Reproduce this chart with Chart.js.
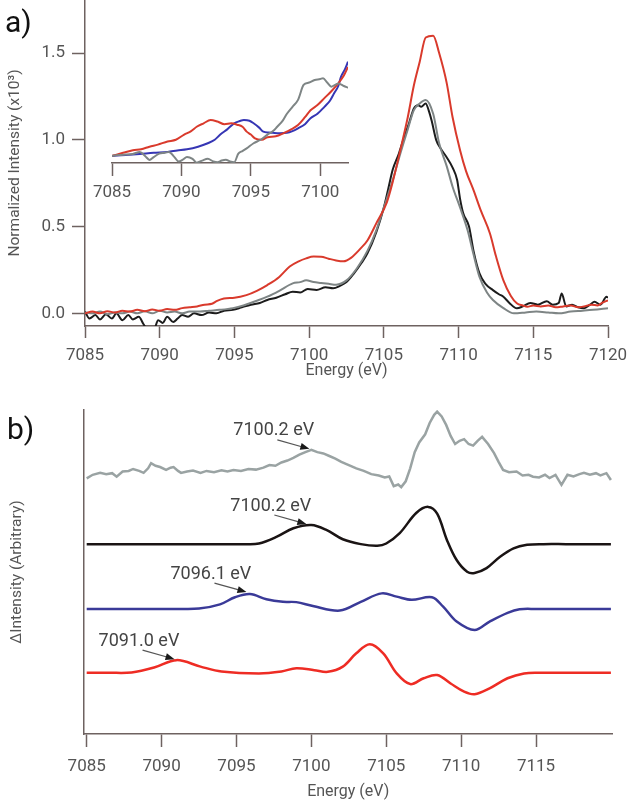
<!DOCTYPE html>
<html>
<head>
<meta charset="utf-8">
<script src="https://cdn.jsdelivr.net/npm/chart.js@4.4.1/dist/chart.umd.min.js"></script>
<style>
  html, body { margin: 0; padding: 0; background: #fff; }
  #wrap { position: relative; width: 629px; height: 805px; overflow: hidden; }
  canvas { position: absolute; }
  .plab { position: absolute; font-family: Roboto, 'Liberation Sans', sans-serif; font-size: 30px; color: #111; line-height: 1; }
</style>
</head>
<body>
<div id="wrap">
  <canvas id="cA" width="629" height="390" style="left:0;top:0"></canvas>
  <canvas id="cI" width="296" height="210" style="left:82px;top:0"></canvas>
  <canvas id="cB" width="629" height="415" style="left:0;top:390px"></canvas>
  <div class="plab" style="left:5px;top:7px">a)</div>
  <div class="plab" style="left:7px;top:414px">b)</div>
</div>
<script>
// ---------------- tick labels ----------------
const aXTicks = [7085, 7090, 7095, 7100, 7105, 7110, 7115, 7120];
const aYTicks = [0.0, 0.5, 1.0, 1.5];
const insetXTicks = [7085, 7090, 7095, 7100];
const bXTicks = [7085, 7090, 7095, 7100, 7105, 7110, 7115];

// ---------------- Panel a: main spectra ----------------
const aRedE = [7085,7085.5,7086,7086.5,7087,7087.5,7088,7088.5,7089,7089.5,7090,7090.5,7091,7091.5,7092,7092.5,7093,7093.5,7093.8,7094.3,7095,7095.8,7096.5,7097.2,7098,7098.7,7099.3,7099.8,7100.3,7100.8,7101.3,7101.8,7102.3,7102.8,7103.4,7103.9,7104.5,7105.2,7105.6,7106.1,7106.6,7107,7107.4,7107.8,7108.3,7108.7,7109.2,7109.6,7110.1,7110.5,7111,7111.5,7112.1,7112.5,7113,7113.5,7113.9,7114.3,7114.6,7115,7115.5,7116,7116.5,7117,7117.5,7118,7118.4,7118.9,7119.3,7119.6,7120];
const aRedV = [0.0,0.01,0.0,0.012,0.005,0.015,0.01,0.02,0.012,0.022,0.015,0.025,0.02,0.03,0.035,0.04,0.05,0.055,0.07,0.086,0.09,0.105,0.13,0.163,0.21,0.27,0.30,0.317,0.327,0.326,0.315,0.305,0.30,0.32,0.37,0.42,0.52,0.64,0.76,0.94,1.13,1.31,1.45,1.59,1.60,1.50,1.33,1.13,0.94,0.82,0.71,0.59,0.46,0.33,0.19,0.10,0.058,0.045,0.038,0.045,0.04,0.045,0.035,0.04,0.045,0.035,0.04,0.05,0.045,0.06,0.075];

const aBlackE = [7085,7085.3,7085.7,7086,7086.4,7086.8,7087.1,7087.5,7087.9,7088.2,7088.6,7088.9,7089.2,7089.6,7089.9,7090.2,7090.5,7090.9,7091.2,7091.5,7091.9,7092.3,7092.8,7093.3,7093.8,7094.3,7094.9,7095.5,7096.1,7096.7,7097.2,7097.8,7098.4,7098.9,7099.4,7099.9,7100.5,7101.1,7101.6,7102.1,7102.5,7103,7103.5,7103.9,7104.5,7105,7105.3,7105.6,7106,7106.3,7106.7,7107,7107.3,7107.5,7107.8,7108,7108.2,7108.5,7108.8,7109.2,7109.6,7109.9,7110.1,7110.3,7110.7,7111,7111.4,7111.8,7112.3,7112.7,7113,7113.4,7113.9,7114.3,7114.8,7115.3,7115.9,7116.3,7116.7,7116.9,7117.2,7117.6,7118,7118.4,7118.8,7119.1,7119.5,7119.9,7120];
const aBlackV = [0.01,-0.03,-0.01,-0.035,-0.005,-0.03,0.0,-0.04,-0.01,-0.035,-0.02,-0.06,-0.095,-0.095,-0.04,-0.055,-0.02,-0.05,-0.03,-0.01,-0.02,0.0,-0.01,0.005,0.0,0.015,0.02,0.035,0.05,0.06,0.077,0.09,0.11,0.125,0.12,0.14,0.135,0.15,0.144,0.16,0.18,0.23,0.29,0.346,0.47,0.61,0.72,0.83,0.92,1.0,1.10,1.18,1.20,1.19,1.21,1.17,1.11,1.0,0.95,0.90,0.84,0.77,0.66,0.58,0.50,0.36,0.23,0.17,0.134,0.11,0.096,0.06,0.029,0.04,0.06,0.05,0.07,0.05,0.06,0.115,0.04,0.05,0.035,0.03,0.05,0.067,0.05,0.096,0.09];

const aGrayE = [7085,7085.5,7086,7086.5,7087,7087.5,7088,7088.5,7089,7089.5,7090,7090.5,7091,7091.5,7092,7092.7,7093.3,7094,7094.9,7095.6,7096.4,7097.2,7098,7098.9,7099.4,7099.8,7100.3,7100.8,7101.3,7101.8,7102.5,7103.2,7103.9,7104.5,7105,7105.6,7106.1,7106.6,7107,7107.4,7107.8,7108.3,7108.7,7109.2,7109.6,7110.1,7110.6,7111,7111.4,7111.9,7112.3,7113,7113.7,7114.5,7115.2,7116,7116.7,7117.5,7118.3,7119,7120];
const aGrayV = [0.005,0.0,0.01,-0.005,0.005,0.0,0.01,0.0,0.012,0.0,0.015,0.005,0.01,0.0,0.01,0.01,0.015,0.02,0.03,0.045,0.07,0.096,0.13,0.173,0.18,0.19,0.18,0.175,0.17,0.165,0.19,0.26,0.36,0.48,0.61,0.77,0.92,1.06,1.17,1.21,1.23,1.15,0.98,0.85,0.73,0.61,0.48,0.34,0.21,0.12,0.077,0.03,0.0,0.005,0.01,0.005,0.0,0.01,0.015,0.02,0.03];

// ---------------- Panel a: inset (pre-edge) ----------------
const iRedE = [7085,7085.8,7086.5,7087.1,7087.7,7088.3,7089,7089.6,7090.2,7090.7,7091.1,7091.6,7092.1,7092.6,7093.1,7093.6,7094,7094.4,7094.7,7095,7095.3,7095.8,7096.2,7096.8,7097.4,7097.9,7098.4,7098.9,7099.3,7099.8,7100.3,7100.8,7101.3,7101.7,7102];
const iRedV = [0.907,0.925,0.94,0.945,0.96,0.972,0.99,1.0,1.03,1.05,1.075,1.095,1.114,1.105,1.09,1.095,1.087,1.075,1.047,1.03,1.008,1.0,1.015,1.02,1.04,1.06,1.085,1.13,1.17,1.2,1.24,1.28,1.325,1.37,1.42];
const iBlueE = [7085,7086,7087,7088,7089,7089.7,7090.4,7091.2,7091.9,7092.4,7092.8,7093.3,7093.8,7094.2,7094.5,7094.9,7095.2,7095.6,7095.9,7096.3,7096.6,7097.1,7097.6,7098,7098.4,7098.9,7099.3,7099.8,7100.3,7100.7,7101,7101.3,7101.5,7101.8,7102];
const iBlueV = [0.907,0.912,0.918,0.925,0.93,0.938,0.945,0.96,0.98,1.0,1.03,1.06,1.095,1.108,1.114,1.11,1.095,1.07,1.047,1.042,1.04,1.038,1.04,1.05,1.066,1.09,1.124,1.15,1.19,1.225,1.268,1.31,1.364,1.41,1.45];
const iGrayE = [7085,7085.5,7086,7086.5,7087,7087.4,7087.7,7088,7088.4,7088.8,7089.1,7089.5,7089.8,7090.1,7090.4,7090.8,7091.1,7091.5,7091.9,7092.3,7092.6,7092.9,7093.2,7093.5,7093.8,7094.1,7094.4,7094.7,7095.2,7095.7,7096.2,7096.6,7096.9,7097.3,7097.6,7098,7098.4,7098.8,7099.2,7099.6,7100,7100.2,7100.5,7100.8,7101.3,7101.7,7102];
const iGrayV = [0.907,0.912,0.915,0.918,0.93,0.905,0.884,0.9,0.92,0.925,0.93,0.9,0.874,0.885,0.90,0.89,0.868,0.88,0.89,0.875,0.87,0.88,0.885,0.875,0.87,0.92,0.935,0.95,0.98,1.0,1.03,1.05,1.075,1.11,1.15,1.19,1.23,1.316,1.33,1.345,1.35,1.355,1.33,1.306,1.325,1.31,1.30];

// ---------------- Panel b: difference spectra (arbitrary offsets) ----------------
const bGrayE = [7085,7085.4,7085.9,7086.3,7086.7,7087,7087.4,7087.8,7088.1,7088.5,7088.8,7089.1,7089.3,7089.6,7089.9,7090.3,7090.6,7090.8,7091.1,7091.3,7091.7,7092.1,7092.6,7093,7093.5,7094,7094.4,7094.8,7095.3,7095.8,7096.3,7096.8,7097.2,7097.6,7098,7098.4,7098.8,7099.2,7099.6,7100,7100.4,7100.8,7101.2,7101.6,7102,7102.5,7103,7103.5,7104,7104.5,7104.9,7105.2,7105.5,7105.8,7106,7106.3,7106.6,7106.9,7107.2,7107.6,7107.9,7108.2,7108.4,7108.7,7109,7109.3,7109.6,7109.9,7110.2,7110.5,7110.8,7111.1,7111.4,7111.8,7112.2,7112.5,7112.8,7113.2,7113.7,7114.1,7114.5,7114.8,7115.2,7115.6,7115.9,7116.3,7116.7,7117.1,7117.5,7117.9,7118.2,7118.6,7119,7119.3,7119.7,7120];
const bGrayV = [7.89,8.0,8.06,8.02,8.05,7.94,8.10,8.12,8.18,8.12,8.06,8.2,8.36,8.28,8.24,8.15,8.22,8.24,8.12,8.06,8.1,8.13,8.06,8.12,8.08,8.14,8.10,8.15,8.12,8.18,8.16,8.22,8.30,8.28,8.38,8.44,8.52,8.62,8.70,8.77,8.70,8.66,8.58,8.50,8.40,8.30,8.20,8.12,8.02,7.98,7.92,7.95,7.65,7.70,7.62,7.80,8.20,8.70,9.0,9.25,9.60,9.85,9.95,9.80,9.54,9.20,8.95,9.05,9.10,8.95,8.90,9.05,9.17,8.95,8.67,8.40,8.15,8.08,8.10,7.98,8.0,7.94,7.92,8.0,7.90,8.0,7.69,8.0,7.95,8.02,8.06,8.0,8.05,7.98,8.05,7.84];
const bBlackE = [7085,7090,7094,7095.5,7096.5,7097.7,7098.8,7100,7101,7102.1,7103.3,7104.4,7105,7105.9,7107,7107.8,7108.4,7109.05,7109.7,7110.4,7110.9,7111.7,7112.6,7113.5,7114.4,7115.5,7117,7120];
const bBlackV = [5.86,5.86,5.86,5.86,5.88,6.09,6.35,6.45,6.30,6.01,5.86,5.81,5.88,6.20,6.82,7.01,6.80,5.99,5.37,5.01,4.97,5.12,5.47,5.73,5.84,5.86,5.86,5.86];
const bBlueE = [7085,7088,7091,7092.5,7093.9,7094.9,7095.9,7097,7098.1,7099,7100.1,7101.9,7103.3,7104.7,7105.7,7106.7,7108.05,7108.8,7109.7,7110.9,7111.9,7113.1,7113.9,7115,7117,7120];
const bBlueV = [3.86,3.86,3.86,3.87,4.0,4.22,4.32,4.16,4.08,4.07,3.95,3.81,4.08,4.34,4.24,4.14,4.22,3.93,3.47,3.21,3.47,3.74,3.85,3.86,3.86,3.86];
const bRedE = [7085,7086.5,7088,7089.5,7091,7092.6,7094,7096.5,7098,7099,7100.2,7101.1,7102.1,7103,7103.9,7104.8,7105.7,7106.6,7107.5,7108.4,7109.3,7110.2,7110.9,7111.9,7113.1,7114.2,7115.3,7117,7120];
const bRedV = [1.89,1.89,1.90,2.05,2.28,2.08,1.93,1.87,1.93,2.03,1.97,1.92,2.08,2.49,2.77,2.49,1.87,1.54,1.72,1.82,1.56,1.31,1.23,1.41,1.72,1.87,1.89,1.89,1.89];

// ---------------- Panel b: peak annotations ----------------
const annLabels = ['7100.2 eV', '7100.2 eV', '7096.1 eV', '7091.0 eV'];
const annE = [7100.0, 7099.8, 7095.8, 7091.0];
const annV = [8.77, 6.45, 4.35, 2.28];

// ---------------- styling ----------------
const AXIS = '#6e6260';
const TXT = '#555555';
const FONT = "Roboto, 'Liberation Sans', sans-serif";
Chart.defaults.font.family = FONT;
Chart.defaults.color = TXT;

const pts = (xs, ys) => xs.map((x, i) => ({ x: x, y: ys[i] }));
const line = (xs, ys, color, w, extra) => Object.assign({
  data: pts(xs, ys), borderColor: color, borderWidth: w, pointRadius: 0,
  fill: false, cubicInterpolationMode: 'monotone'
}, extra || {});
const smooth = { cubicInterpolationMode: 'default', tension: 0.35 };
const setTicks = (vals) => (scale) => { scale.ticks = vals.map(v => ({ value: v })); };
const fitW = (w) => (scale) => { scale.width = w; scale.paddingTop = 0; scale.paddingBottom = 0; };
const fitH = (h) => (scale) => { scale.height = h; scale.paddingLeft = 0; scale.paddingRight = 0; };

const baseOpts = {
  responsive: false, animation: false, devicePixelRatio: 1,
  plugins: { legend: { display: false }, tooltip: { enabled: false } },
  events: []
};

// ---------- Panel a main chart ----------
new Chart(document.getElementById('cA'), {
  type: 'line',
  data: { datasets: [
    line(aRedE, aRedV, '#d93a2c', 2),
    line(aGrayE, aGrayV, '#7e8585', 2),
    line(aBlackE, aBlackV, '#1c1c1c', 2)
  ]},
  options: Object.assign({}, baseOpts, {
    layout: { padding: { left: 0, right: 21, top: 0, bottom: 0 } },
    scales: {
      x: {
        type: 'linear', min: 7085, max: 7120,
        afterBuildTicks: setTicks(aXTicks), afterFit: fitH(64),
        border: { color: AXIS, width: 1.5 },
        grid: { drawOnChartArea: false, drawTicks: true, tickLength: 12, tickColor: AXIS, tickWidth: 1.5 },
        ticks: { font: { size: 17 }, color: TXT, padding: 8, maxRotation: 0, callback: v => String(v) },
        title: { display: true, text: 'Energy (eV)', font: { size: 16 }, color: TXT, padding: { top: 0, bottom: 9 } }
      },
      y: {
        type: 'linear', min: -0.073, max: 1.806,
        afterBuildTicks: setTicks(aYTicks), afterFit: fitW(85),
        border: { color: AXIS, width: 1.5 },
        grid: { drawOnChartArea: false, drawTicks: true, tickLength: 13, tickColor: AXIS, tickWidth: 1.5 },
        ticks: { font: { size: 17 }, color: TXT, padding: 7, callback: v => Number(v).toFixed(1) },
        title: { display: true, text: 'Normalized Intensity (x10³)', font: { size: 15.5 }, color: TXT, padding: { top: 6, bottom: 0 } }
      }
    }
  })
});

// ---------- Panel a inset ----------
new Chart(document.getElementById('cI'), {
  type: 'line',
  data: { datasets: [
    line(iGrayE, iGrayV, '#7e8585', 2),
    line(iRedE, iRedV, '#d93a2c', 2),
    line(iBlueE, iBlueV, '#3636b4', 2)
  ]},
  options: Object.assign({}, baseOpts, {
    layout: { padding: { left: 30, right: 30, top: 0, bottom: 0 } },
    scales: {
      x: {
        type: 'linear', min: 7085, max: 7102,
        afterBuildTicks: setTicks(insetXTicks), afterFit: fitH(47),
        border: { color: AXIS, width: 1.5 },
        grid: { drawOnChartArea: false, drawTicks: true, tickLength: 13, tickColor: AXIS, tickWidth: 1.5 },
        ticks: { font: { size: 17 }, color: TXT, padding: 7, maxRotation: 0, callback: v => String(v) }
      },
      y: { type: 'linear', min: 0.866, max: 1.806, display: false }
    }
  })
});

// ---------- Panel b ----------
const annPlugin = {
  id: 'peakNotes',
  afterDatasetsDraw(chart) {
    const xs = chart.scales.x, ys = chart.scales.y, ctx = chart.ctx;
    ctx.save();
    annLabels.forEach((lab, i) => {
      const px = xs.getPixelForValue(annE[i]);
      const py = ys.getPixelForValue(annV[i]);
      ctx.font = '18px ' + FONT;
      ctx.fillStyle = '#444';
      ctx.textAlign = 'left';
      ctx.textBaseline = 'middle';
      ctx.fillText(lab, px - 78, py - 19);
      const x0 = px - 34, y0 = py - 10, x1 = px - 2, y1 = py - 1;
      const ang = Math.atan2(y1 - y0, x1 - x0);
      ctx.strokeStyle = '#555';
      ctx.lineWidth = 1.2;
      ctx.beginPath(); ctx.moveTo(x0, y0);
      ctx.lineTo(x1 - 7 * Math.cos(ang), y1 - 7 * Math.sin(ang)); ctx.stroke();
      ctx.fillStyle = '#1a1a1a';
      ctx.beginPath();
      ctx.moveTo(x1, y1);
      ctx.lineTo(x1 - 9 * Math.cos(ang) + 3.5 * Math.sin(ang), y1 - 9 * Math.sin(ang) - 3.5 * Math.cos(ang));
      ctx.lineTo(x1 - 9 * Math.cos(ang) - 3.5 * Math.sin(ang), y1 - 9 * Math.sin(ang) + 3.5 * Math.cos(ang));
      ctx.closePath(); ctx.fill();
    });
    ctx.restore();
  }
};

new Chart(document.getElementById('cB'), {
  type: 'line',
  data: { datasets: [
    line(bGrayE, bGrayV, '#9aa3a3', 2.5, { cubicInterpolationMode: 'default', tension: 0 }),
    line(bBlackE, bBlackV, '#1a1414', 2.5, smooth),
    line(bBlueE, bBlueV, '#3a3a98', 2.5, smooth),
    line(bRedE, bRedV, '#ee2c24', 2.5, smooth)
  ]},
  options: Object.assign({}, baseOpts, {
    layout: { padding: { left: 0, right: 16.6, top: 20, bottom: 0 } },
    scales: {
      x: {
        type: 'linear', min: 7084.82, max: 7120.1,
        afterBuildTicks: setTicks(bXTicks), afterFit: fitH(71),
        border: { color: AXIS, width: 1.5 },
        grid: { drawOnChartArea: false, drawTicks: true, tickLength: 13, tickColor: AXIS, tickWidth: 1.5 },
        ticks: { font: { size: 17 }, color: TXT, padding: 10, maxRotation: 0, callback: v => String(v) },
        title: { display: true, text: 'Energy (eV)', font: { size: 16 }, color: TXT, padding: { top: 0, bottom: 3 } }
      },
      y: {
        type: 'linear', min: 0, max: 10,
        afterBuildTicks: setTicks([]), afterFit: fitW(84),
        border: { color: AXIS, width: 1.5 },
        grid: { drawOnChartArea: false, drawTicks: false },
        ticks: { display: false },
        title: { display: true, text: 'ΔIntensity (Arbitrary)', font: { size: 15.5 }, color: TXT, padding: { top: 8, bottom: 0 } }
      }
    }
  }),
  plugins: [annPlugin]
});
</script>
</body>
</html>
